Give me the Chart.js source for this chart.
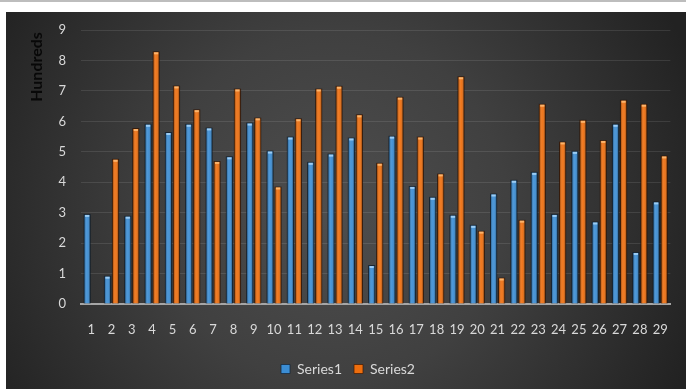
<!DOCTYPE html>
<html>
<head>
<meta charset="utf-8">
<script src="https://cdn.jsdelivr.net/npm/chart.js@4.4.1/dist/chart.umd.min.js"></script>
<style>
  html, body { margin: 0; padding: 0; background: #ffffff; width: 686px; height: 389px; overflow: hidden; }
  #rule { position: absolute; left: 0; top: 0; width: 686px; height: 2px; background: #bdbdbd; }
  #wrap { position: absolute; left: 6px; top: 12px; width: 680px; height: 377px; }
  canvas { display: block; }
</style>
</head>
<body>
<div id="rule"></div>
<div id="wrap"><canvas id="c" width="680" height="377"></canvas></div>
<script>
// Values are shown in hundreds
const categories = ['1','2','3','4','5','6','7','8','9','10','11','12','13','14','15',
                    '16','17','18','19','20','21','22','23','24','25','26','27','28','29'];
const series1 = [2.96, 0.93, 2.90, 5.92, 5.65, 5.92, 5.80, 4.85, 5.96, 5.04,
                 5.50, 4.67, 4.94, 5.47, 1.28, 5.53, 3.88, 3.52, 2.93, 2.60,
                 3.63, 4.08, 4.34, 2.96, 5.03, 2.71, 5.92, 1.71, 3.37];
const series2 = [null, 4.77, 5.78, 8.30, 7.18, 6.40, 4.70, 7.08, 6.13, 3.86,
                 6.10, 7.08, 7.17, 6.23, 4.64, 6.81, 5.50, 4.29, 7.48, 2.41,
                 0.87, 2.77, 6.58, 5.34, 6.05, 5.39, 6.71, 6.58, 4.88];
const seriesNames = ['Series1', 'Series2'];
const yTicks = [0, 1, 2, 3, 4, 5, 6, 7, 8, 9];
const unitLabel = 'Hundreds';

const FONT = 'Lato, "Open Sans", sans-serif';

// Dark radial backdrop behind the whole chart
const backdrop = {
  id: 'backdrop',
  beforeDraw(chart) {
    const { ctx, width, height } = chart;
    const cx = width * 0.48, cy = height * 0.52;
    const g = ctx.createRadialGradient(cx, cy, 0, cx, cy, Math.hypot(cx, cy) * 1.02);
    g.addColorStop(0, '#4e4e4e');
    g.addColorStop(0.45, '#404040');
    g.addColorStop(1, '#222222');
    ctx.save();
    ctx.fillStyle = g;
    ctx.fillRect(0, 0, width, height);
    ctx.restore();
  }
};

// Soft shadow under the bars
const barShadow = {
  id: 'barShadow',
  beforeDatasetsDraw(chart) {
    const ctx = chart.ctx;
    ctx.save();
    ctx.shadowColor = 'rgba(0,0,0,0.55)';
    ctx.shadowBlur = 3;
  },
  afterDatasetsDraw(chart) {
    chart.ctx.restore();
  }
};

// Rounded shading across each bar plus a bright bevel at its top
const barShine = {
  id: 'barShine',
  afterDatasetsDraw(chart) {
    const ctx = chart.ctx;
    ctx.save();
    chart.data.datasets.forEach((ds, i) => {
      const meta = chart.getDatasetMeta(i);
      if (meta.hidden) return;
      meta.data.forEach((bar, j) => {
        if (ds.data[j] == null) return;
        const { x, y, width, base } = bar.getProps(['x', 'y', 'width', 'base'], true);
        const l = x - width / 2 + 1, w = width - 2;
        const h = base - y - 1;
        if (h <= 0) return;
        const g = ctx.createLinearGradient(l, 0, l + w, 0);
        g.addColorStop(0, 'rgba(0,0,0,0.28)');
        g.addColorStop(0.4, 'rgba(255,255,255,0.10)');
        g.addColorStop(0.6, 'rgba(255,255,255,0.06)');
        g.addColorStop(1, 'rgba(0,0,0,0.32)');
        ctx.fillStyle = g;
        ctx.fillRect(l, y + 1, w, h);
        ctx.fillStyle = ds.capColor;
        ctx.fillRect(l + 0.5, y + 1, w - 1, 2);
      });
    });
    ctx.restore();
  }
};

// Display-unit label placed near the top of the value axis
const unitTag = {
  id: 'unitTag',
  afterDraw(chart) {
    const { ctx, chartArea } = chart;
    ctx.save();
    ctx.translate(31, chartArea.top + 37);
    ctx.rotate(-Math.PI / 2);
    ctx.font = 'bold 16px ' + FONT;
    ctx.fillStyle = '#080808';
    ctx.textAlign = 'center';
    ctx.textBaseline = 'middle';
    ctx.fillText(unitLabel, 0, 0);
    ctx.restore();
  }
};

new Chart(document.getElementById('c'), {
  type: 'bar',
  data: {
    labels: categories,
    datasets: [
      {
        label: seriesNames[0],
        data: series1,
        backgroundColor: '#3b8dd4',
        borderColor: 'rgba(20,40,60,0.75)',
        borderWidth: 1,
        capColor: 'rgba(170,215,250,0.85)',
        categoryPercentage: 0.79,
        barPercentage: 0.9
      },
      {
        label: seriesNames[1],
        data: series2,
        backgroundColor: '#ee6e0e',
        borderColor: 'rgba(70,30,5,0.75)',
        borderWidth: 1,
        capColor: 'rgba(255,190,120,0.85)',
        categoryPercentage: 0.79,
        barPercentage: 0.9
      }
    ]
  },
  options: {
    responsive: false,
    animation: false,
    devicePixelRatio: 1,
    layout: { padding: { top: 18, right: 15, bottom: 3, left: 19 } },
    plugins: {
      legend: {
        position: 'bottom',
        labels: {
          color: '#d9d9d9',
          font: { family: FONT, size: 14 },
          boxWidth: 9,
          boxHeight: 9,
          padding: 12
        }
      },
      tooltip: { enabled: false }
    },
    scales: {
      x: {
        grid: { display: false, drawTicks: false },
        border: { display: true, color: '#a6a6a6', width: 2 },
        ticks: {
          color: '#d9d9d9',
          font: { family: FONT, size: 13 },
          padding: 18,
          maxRotation: 0,
          autoSkip: false
        },
        afterFit(scale) { scale.height = 46; }
      },
      y: {
        min: 0,
        max: 9,
        afterBuildTicks(scale) { scale.ticks = yTicks.map(v => ({ value: v })); },
        grid: {
          color: (c) => c.tick && c.tick.value === 0 ? 'rgba(0,0,0,0)' : 'rgba(255,255,255,0.10)',
          lineWidth: 1,
          drawTicks: false
        },
        border: { display: false },
        ticks: {
          color: '#d9d9d9',
          font: { family: FONT, size: 13 },
          padding: 15
        },
        afterFit(scale) {
          scale.width = 56;
          scale.paddingTop = 0;
          scale.paddingBottom = 0;
        }
      }
    }
  },
  plugins: [backdrop, barShadow, barShine, unitTag]
});
</script>
</body>
</html>
